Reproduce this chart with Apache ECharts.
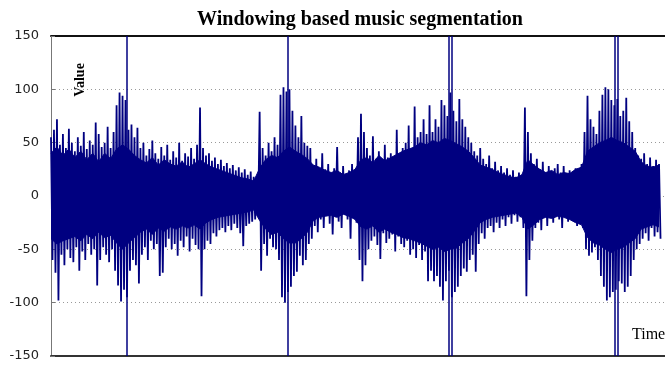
<!DOCTYPE html>
<html>
<head>
<meta charset="utf-8">
<script src="https://cdn.jsdelivr.net/npm/echarts@6/dist/echarts.min.js"></script>
<style>
  html, body { margin: 0; padding: 0; background: #fff; }
  #chart { width: 665px; height: 367px; }
</style>
</head>
<body>
<div id="chart"></div>
<script>
// Outer peaks of the audio signal: one upper and one lower peak per short window.
const upperPeaks = [
  55, 62, 72, 48, 58, 45, 63, 50, 42, 55, 47, 60, 44, 52, 48, 69, 58, 46, 50, 65, 45, 60, 85, 97, 94,
  90, 62, 67, 55, 64, 45, 50, 38, 44, 52, 40, 35, 46, 38, 48, 34, 42, 36, 50, 33, 40, 37, 45, 35, 48,
  83, 45, 38, 40, 33, 36, 30, 34, 28, 31, 26, 29, 24, 27, 22, 25, 20, 23, 18, 16,
  79, 45, 38, 50, 42, 55, 48,
  95, 102, 98, 100, 80,
  66, 55, 75, 50, 47,
  45, 28, 35, 22, 40, 25, 30, 20, 26, 46, 22, 28, 19, 24, 30, 18,
  55, 77, 60,
  45, 38, 56, 35, 42, 30, 48, 36, 40, 33, 62, 38, 45, 50, 66, 42, 84, 55, 60, 72, 58,
  85, 60, 72, 65, 90, 85, 75, 97, 80, 70, 91, 72, 65, 55,
  50, 42, 38, 45, 35, 30, 38, 26, 32, 24, 28, 22, 26, 20, 24, 18, 22, 20,
  83, 60,
  40, 30, 35, 25, 32, 22, 28, 20, 26, 30, 22, 28, 18, 24, 20, 26, 22, 30,
  60, 94, 72, 65, 58, 80, 95, 102, 100, 90, 85, 91, 75, 80, 92, 70, 60,
  45, 38, 35, 40, 30, 36, 28, 34, 30
];
const lowerPeaks = [
  -60, -72, -98, -55, -65, -50, -58, -62, -48, -70, -52, -60, -45, -55, -50, -84, -60, -48, -55, -62, -50, -70, -84, -99, -88,
  -95, -70, -60, -65, -82, -55, -48, -60, -42, -50, -45, -75, -72, -48, -40, -50, -45, -56, -42, -48, -38, -52, -40, -46, -50,
  -94, -50, -42, -45, -35, -38, -32, -30, -34, -28, -32, -26, -30, -35, -47, -28, -26, -24, -22, -18,
  -70, -45, -56, -40, -48, -50, -60,
  -95, -100, -90, -85, -75,
  -71, -56, -65, -60, -45,
  -40, -28, -34, -22, -30, -18, -26, -36, -20, -24, -30, -16, -22, -40, -18, -25,
  -60, -80, -65,
  -50, -42, -38, -46, -59, -35, -44, -40, -36, -52, -38, -45, -48, -42, -55, -50, -58, -46, -60, -52, -80,
  -70, -80, -75, -85, -98, -80, -70, -95, -90, -85, -75, -68, -71, -60,
  -55, -71, -45, -35, -40, -30, -28, -34, -25, -30, -22, -28, -20, -26, -18, -24, -20, -30,
  -94, -60,
  -42, -30, -25, -32, -20, -28, -18, -25, -15, -22, -30, -18, -24, -16, -22, -28, -20, -30,
  -50, -56, -53, -48, -60, -75, -85, -98, -95, -90, -88, -80, -82, -90, -85, -75, -60,
  -50, -45, -40, -35, -42, -30, -38, -34, -40
];
// Dense body of the signal, one value per four samples.
const coreUpper = [
  40, 46, 38, 44,
  36, 42, 34, 40, 32, 40, 35, 44, 48,
  44, 38,
  34, 31, 36, 29, 34, 30, 28, 32, 27, 30,
  34, 30, 27, 25,
  23, 21, 19, 17, 16, 14,
  26, 34, 38, 36, 42, 46,
  42, 39, 35,
  29, 27, 24, 22, 24, 20, 22, 25,
  34, 36, 31, 38, 33, 36, 39, 42,
  44, 46, 50, 48, 52, 50, 54, 52,
  49, 46, 42, 36,
  29, 27, 25, 22, 20, 18, 17, 20,
  34, 29,
  25, 22, 24, 20, 22, 21, 25, 27,
  42, 46, 50, 52, 55, 52, 50, 46, 42,
  32, 28, 27, 29
];
const coreLower = [
  -40, -45, -42, -40,
  -38, -42, -36, -40, -34, -39, -37, -44, -50,
  -44, -39,
  -34, -31, -36, -30, -33, -29, -31, -28, -30, -27,
  -31, -25, -22, -20,
  -19, -18, -17, -16, -15, -13,
  -23, -31, -36, -34, -40, -44,
  -44, -40, -34,
  -23, -20, -19, -18, -20, -17, -19, -22,
  -29, -31, -28, -34, -31, -34, -36, -39,
  -40, -42, -44, -47, -50, -48, -52, -50,
  -49, -44, -40, -33,
  -25, -22, -20, -19, -18, -17, -16, -20,
  -31, -27,
  -22, -20, -21, -19, -20, -22, -25, -27,
  -39, -44, -46, -50, -53, -50, -48, -44, -40,
  -31, -29, -27, -29
];
// Segment boundaries found by the windowing step (sample index).
const boundaries = [51, 159, 267, 269, 378, 380];
const yTicks = [-150, -100, -50, 0, 50, 100, 150];

const NAVY = '#000080';

// Interleave upper/lower peaks into one sample sequence.
const signal = [];
for (let i = 0; i < upperPeaks.length; i++) {
  signal.push([2 * i, upperPeaks[i]]);
  signal.push([2 * i + 1, lowerPeaks[i]]);
}
const coreTop = coreUpper.map((v, j) => [4 * j, v]);
const coreBottom = coreLower.map((v, j) => [4 * j, v]);

const bandSeries = (data) => ({
  type: 'line', data, showSymbol: false, sampling: 'none', silent: true,
  lineStyle: { color: NAVY, width: 1 },
  areaStyle: { color: NAVY, opacity: 1, origin: 0 },
  z: 2
});

const chart = echarts.init(document.getElementById('chart'));
chart.setOption({
  animation: false,
  backgroundColor: '#fff',
  title: {
    text: 'Windowing based music segmentation',
    left: 355, top: 5, textAlign: 'center',
    textStyle: { fontFamily: 'Liberation Serif', fontWeight: 'bold', fontSize: 20, color: '#000' }
  },
  grid: { left: 51, right: -4, top: 36, bottom: 11 },
  xAxis: [{
    type: 'value', min: 0, max: 412, position: 'bottom',
    axisLine: { show: true, onZero: false, lineStyle: { color: '#333', width: 2 } },
    axisTick: { show: false }, axisLabel: { show: false }, splitLine: { show: false }
  }, {
    type: 'value', min: 0, max: 412, position: 'top',
    axisLine: { show: true, onZero: false, lineStyle: { color: '#111', width: 2 } },
    axisTick: { show: false }, axisLabel: { show: false }, splitLine: { show: false }
  }],
  yAxis: {
    type: 'value', min: yTicks[0], max: yTicks[yTicks.length - 1], interval: 50,
    axisLine: { show: true, lineStyle: { color: '#777', width: 1 } },
    axisTick: { show: true, inside: true, length: 4, lineStyle: { color: '#777' } },
    axisLabel: { margin: 12, fontFamily: 'DejaVu Sans', fontSize: 13, color: '#222' },
    splitLine: { show: true, lineStyle: { type: [1, 3], color: '#999', width: 1 } }
  },
  graphic: [
    { type: 'text', x: 80, y: 80, rotation: Math.PI / 2,
      style: { text: 'Value', align: 'center', verticalAlign: 'middle',
               font: 'bold 14px "Liberation Serif"', fill: '#000' } },
    { type: 'text', x: 632, y: 335,
      style: { text: 'Time', align: 'left', verticalAlign: 'middle',
               font: '16px "Liberation Serif"', fill: '#000' } }
  ],
  series: [
    bandSeries(coreTop),
    bandSeries(coreBottom),
    {
      type: 'line',
      data: signal,
      showSymbol: false,
      sampling: 'none',
      lineStyle: { color: NAVY, width: 1.8 },
      itemStyle: { color: NAVY },
      z: 3,
      markLine: {
        silent: true,
        symbol: ['none', 'none'],
        label: { show: false },
        lineStyle: { color: NAVY, width: 1.5, type: 'solid' },
        data: boundaries.map(b => ({ xAxis: b }))
      }
    }
  ]
});
</script>
</body>
</html>
